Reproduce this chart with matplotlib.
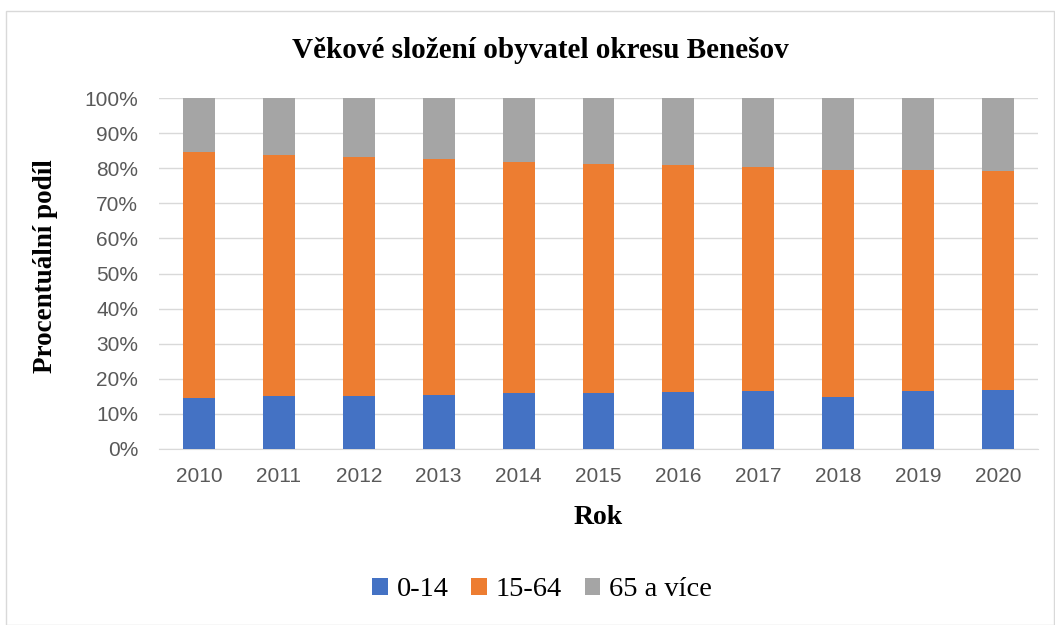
import numpy as np
import matplotlib
matplotlib.use("Agg")
import matplotlib.pyplot as plt
from matplotlib.patches import Rectangle
from matplotlib.ticker import PercentFormatter

years = ["2010", "2011", "2012", "2013", "2014", "2015", "2016", "2017", "2018", "2019", "2020"]
age_0_14 = [14.6, 15.0, 15.2, 15.5, 15.9, 15.9, 16.1, 16.4, 14.7, 16.4, 16.7]
age_15_64 = [69.9, 68.8, 68.0, 67.2, 66.0, 65.4, 64.7, 64.0, 64.7, 63.0, 62.5]
age_65 = [100 - a - b for a, b in zip(age_0_14, age_15_64)]
labels = ["0-14", "15-64", "65 a více"]
colors = ["#4472C4", "#ED7D31", "#A5A5A5"]

serif = "Liberation Serif"
sans = "Liberation Sans"
W, H = 1055, 625

fig = plt.figure(figsize=(W / 100, H / 100), dpi=100)
ax = fig.add_axes([159 / W, 1 - 449 / H, 879 / W, 351 / H])
fig.patches.append(Rectangle((6 / W, 0.0), 1 - 7 / W, 1 - 11 / H, transform=fig.transFigure,
                             fill=False, edgecolor="#D9D9D9", lw=1))

x = np.arange(len(years))
bottom = np.zeros(len(years))
for vals, lab, c in zip([age_0_14, age_15_64, age_65], labels, colors):
    ax.bar(x, vals, 0.4, bottom=bottom, color=c, label=lab, zorder=3)
    bottom += np.array(vals)

ax.set_xlim(-0.5, len(years) - 0.5)
ax.set_ylim(0, 100)
ax.set_yticks(np.arange(0, 101, 10))
ax.yaxis.set_major_formatter(PercentFormatter(decimals=0))
ax.set_xticks(x, years)
ax.grid(axis="y", color="#D9D9D9", lw=1, zorder=0)
for s in ["top", "right", "left"]:
    ax.spines[s].set_visible(False)
ax.spines["bottom"].set_color("#D9D9D9")
ax.tick_params(length=0, labelsize=15, colors="#595959")
ax.tick_params(axis="y", pad=15)
ax.tick_params(axis="x", pad=13)
for t in ax.get_xticklabels() + ax.get_yticklabels():
    t.set_fontfamily(sans)

fig.text(540 / W, 1 - 50 / H, "Věkové složení obyvatel okresu Benešov", fontfamily=serif,
         fontweight="bold", fontsize=21, ha="center", va="center")
fig.text(598 / W, 1 - 517 / H, "Rok", fontfamily=serif, fontweight="bold", fontsize=20,
         ha="center", va="center")
fig.text(46 / W, 1 - 266 / H, "Procentuální podíl", fontfamily=serif, fontweight="bold",
         fontsize=19.5, rotation=90, ha="center", va="center")

leg = fig.legend(loc="center", bbox_to_anchor=(542 / W, 1 - 590 / H), ncol=3, frameon=False,
                 prop={"family": serif, "size": 20.5}, handlelength=0.55, handleheight=0.55,
                 handletextpad=0.3, columnspacing=0.8)

fig.savefig("out.png", dpi=100)
